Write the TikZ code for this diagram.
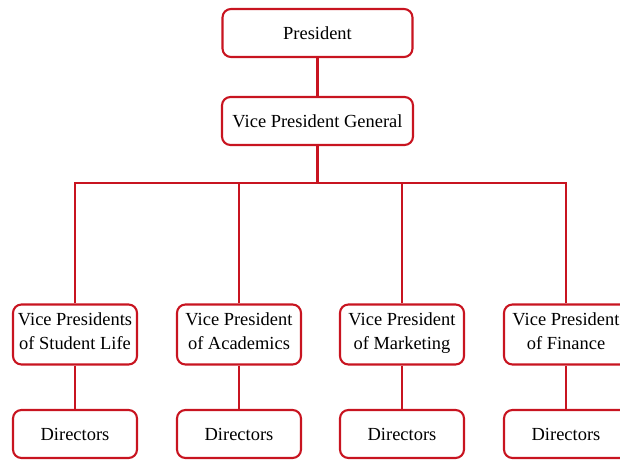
\documentclass[tikz,border=0pt]{standalone}
\usepackage{fontspec}
\setmainfont{Liberation Serif}
\usepackage{tikz}
\usetikzlibrary{positioning}
\definecolor{chartred}{RGB}{200,20,32}

\begin{document}
\begin{tikzpicture}[
        box/.style={draw=chartred, line width=1.2pt, rounded corners=0.17cm,
                    minimum width=2.48cm, align=center, inner sep=2pt,
                    font=\fontsize{10.5}{13.5}\selectfont},
        link/.style={draw=chartred, line width=1.2pt}
    ]
        \useasboundingbox (0,0) rectangle (12.4,-9.24);

        % Top of the chart
        \node[box, minimum width=3.8cm, minimum height=0.96cm] (pres) at (6.35,-0.66) {President};
        \node[box, minimum width=3.82cm, minimum height=0.96cm] (vpg) at (6.35,-2.42) {Vice President General};
        \coordinate (bar) at (6.35,-3.66);

        % Vice presidents
        \node[box, minimum height=1.2cm] (vpstud) at (1.5,-6.69) {Vice Presidents\\of Student Life\strut};
        \node[box, minimum height=1.2cm] (vpacad) at (4.78,-6.69) {Vice President\\of Academics\strut};
        \node[box, minimum height=1.2cm] (vpmark) at (8.04,-6.69) {Vice President\\of Marketing\strut};
        \node[box, minimum height=1.2cm] (vpfin) at (11.32,-6.69) {Vice President\\of Finance\strut};

        % Directors
        \node[box, minimum height=0.96cm] (dirstud) at (1.5,-8.68) {Directors};
        \node[box, minimum height=0.96cm] (diracad) at (4.78,-8.68) {Directors};
        \node[box, minimum height=0.96cm] (dirmark) at (8.04,-8.68) {Directors};
        \node[box, minimum height=0.96cm] (dirfin) at (11.32,-8.68) {Directors};

        % Lines
        \draw[link] (pres) -- (vpg);
        \draw[link] (vpg) -- (bar);
        \draw[link] (vpstud) |- (bar);
        \draw[link] (vpacad) |- (bar);
        \draw[link] (vpmark) |- (bar);
        \draw[link] (vpfin) |- (bar);
        \draw[link] (vpstud) -- (dirstud);
        \draw[link] (vpacad) -- (diracad);
        \draw[link] (vpmark) -- (dirmark);
        \draw[link] (vpfin) -- (dirfin);
    \end{tikzpicture}
\end{document}
